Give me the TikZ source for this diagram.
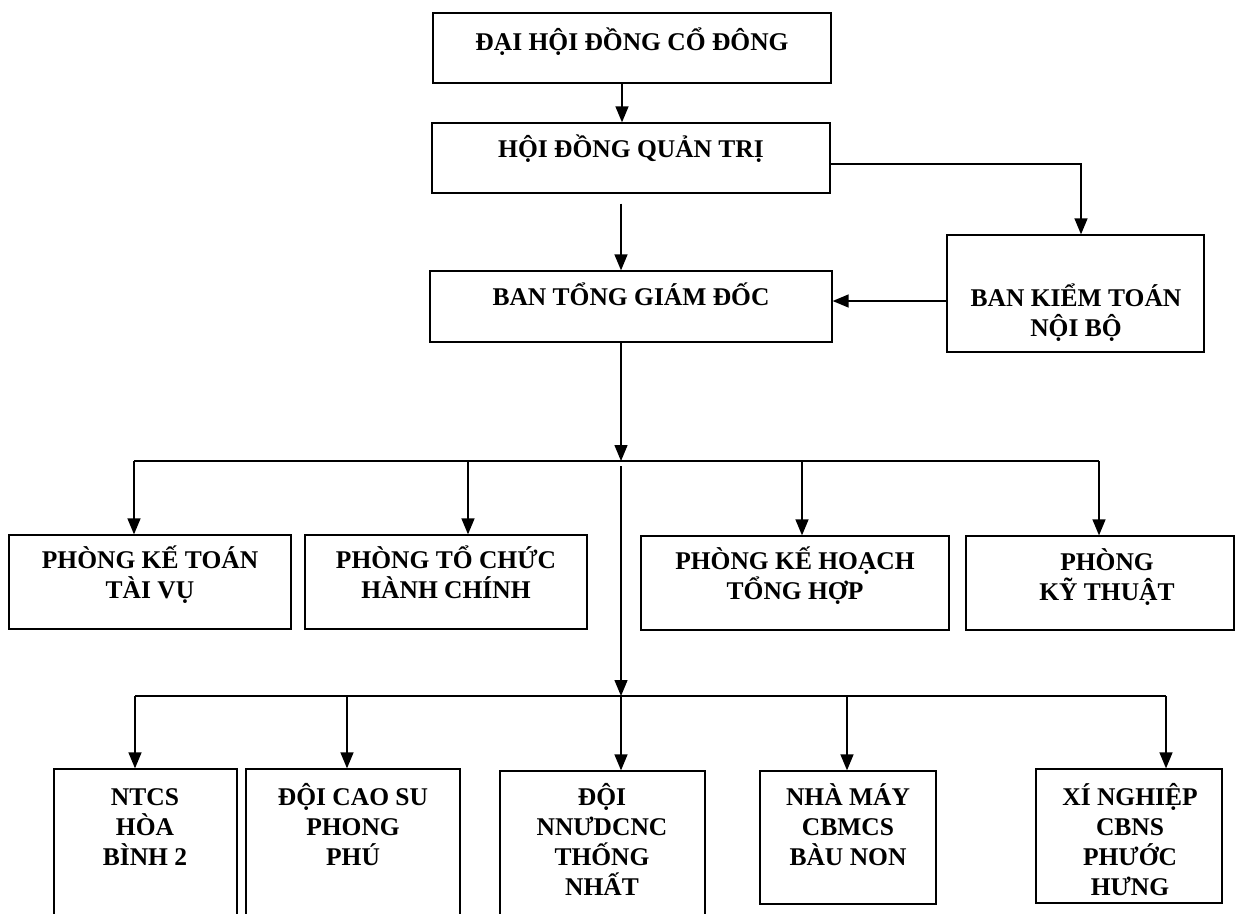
\documentclass[tikz,border=0pt]{standalone}
\usepackage{fontspec}
\setmainfont{Liberation Serif}
\usetikzlibrary{arrows.meta,calc}
\newcommand\orgfont{\fontsize{25.5pt}{30pt}\selectfont\bfseries}
\newcommand\orglines[1]{\vtop{\baselineskip=30pt\lineskiplimit=-100pt\lineskip=0pt\halign{\hfil##\hfil\cr#1\crcr}}}
\begin{document}
\begin{tikzpicture}[x=1pt,y=-1pt,
  box/.style={draw, line width=1.3pt, inner sep=0pt},
  txt/.style={inner sep=0pt, anchor=base, font=\orgfont},
  arr/.style={line width=1.4pt, -{Triangle[width=13pt,length=16pt]}},
  ln/.style={line width=1.4pt}]
\useasboundingbox[fill=white] (0,0) rectangle (1236,913);
\begin{scope}
\clip (0,0) rectangle (1236,913);
% boxes
\node[box, minimum width=398pt, minimum height=70pt] (dh) at (632,48) {};
\node[box, minimum width=398pt, minimum height=70pt] (hd) at (631,158) {};
\node[box, minimum width=402pt, minimum height=71pt] (tg) at (631,306.5) {};
\node[box, minimum width=257pt, minimum height=117pt] (bk) at (1075.5,293.5) {};
\node[box, minimum width=282pt, minimum height=94pt] (p1) at (150,582) {};
\node[box, minimum width=282pt, minimum height=94pt] (p2) at (446,582) {};
\node[box, minimum width=308pt, minimum height=94pt] (p3) at (795,583) {};
\node[box, minimum width=268pt, minimum height=94pt] (p4) at (1100,583) {};
\node[box, minimum width=183pt, minimum height=170pt] (q1) at (145.5,854) {};
\node[box, minimum width=214pt, minimum height=170pt] (q2) at (353,854) {};
\node[box, minimum width=205pt, minimum height=170pt] (q3) at (602.5,856) {};
\node[box, minimum width=176pt, minimum height=133pt] (q4) at (848,837.5) {};
\node[box, minimum width=186pt, minimum height=134pt] (q5) at (1129,836) {};
% texts (placed at the first baseline)
\node[txt] (dh-t) at (632,50) {ĐẠI HỘI ĐỒNG CỔ ĐÔNG};
\node[txt] (hd-t) at (631,157) {HỘI ĐỒNG QUẢN TRỊ};
\node[txt] (tg-t) at (631,305) {BAN TỔNG GIÁM ĐỐC};
\node[txt] (bk-t) at (1076,306) {\orglines{BAN KIỂM TOÁN\cr NỘI BỘ}};
\node[txt] (p1-t) at (150,568) {\orglines{PHÒNG KẾ TOÁN\cr TÀI VỤ}};
\node[txt] (p2-t) at (446,568) {\orglines{PHÒNG TỔ CHỨC\cr HÀNH CHÍNH}};
\node[txt] (p3-t) at (795,569) {\orglines{PHÒNG KẾ HOẠCH\cr TỔNG HỢP}};
\node[txt] (p4-t) at (1107,570) {\orglines{PHÒNG\cr KỸ THUẬT}};
\node[txt] (q1-t) at (145,805) {\orglines{NTCS\cr HÒA\cr BÌNH 2}};
\node[txt] (q2-t) at (353,805) {\orglines{ĐỘI CAO SU\cr PHONG\cr PHÚ}};
\node[txt] (q3-t) at (602,805) {\orglines{ĐỘI\cr NNƯDCNC\cr THỐNG\cr NHẤT}};
\node[txt] (q4-t) at (848,805) {\orglines{NHÀ MÁY\cr CBMCS\cr BÀU NON}};
\node[txt] (q5-t) at (1130,805) {\orglines{XÍ NGHIỆP\cr CBNS\cr PHƯỚC\cr HƯNG}};
% coordinates
\coordinate (j) at (0,301);
\coordinate (m1) at (621,461);
\coordinate (m2) at (621,696);
\coordinate (a1) at (134,461);
\coordinate (a2) at (468,461);
\coordinate (a3) at (802,461);
\coordinate (a4) at (1099,461);
\coordinate (c1) at (135,696);
\coordinate (c2) at (347,696);
\coordinate (c4) at (847,696);
\coordinate (c5) at (1166,696);
% connectors
\draw[arr] ([xshift=-10pt]dh.south) -- ([xshift=-9pt]hd.north);
\draw[arr, shorten <=10pt] ([xshift=-10pt]hd.south) -- ([xshift=-10pt]tg.north);
\draw[arr] ([yshift=-6pt]hd.east) -| ([xshift=5.5pt]bk.north);
\draw[arr] (bk.west |- j) -- (tg.east |- j);
\draw[arr] ([xshift=-10pt]tg.south) -- (m1);
\draw[ln] (a1) -- (a4);
\draw[arr] (a1) -- (a1 |- p1.north);
\draw[arr] (a2) -- (a2 |- p2.north);
\draw[arr] (a3) -- (a3 |- p3.north);
\draw[arr] (a4) -- (a4 |- p4.north);
\draw[arr] ([yshift=-5pt]m1) -- (m2);
\draw[ln] (c1) -- (c5);
\draw[arr] (c1) -- (c1 |- q1.north);
\draw[arr] (c2) -- (c2 |- q2.north);
\draw[arr] (m2) -- (m2 |- q3.north);
\draw[arr] (c4) -- (c4 |- q4.north);
\draw[arr] (c5) -- (c5 |- q5.north);
\end{scope}
\end{tikzpicture}
\end{document}
